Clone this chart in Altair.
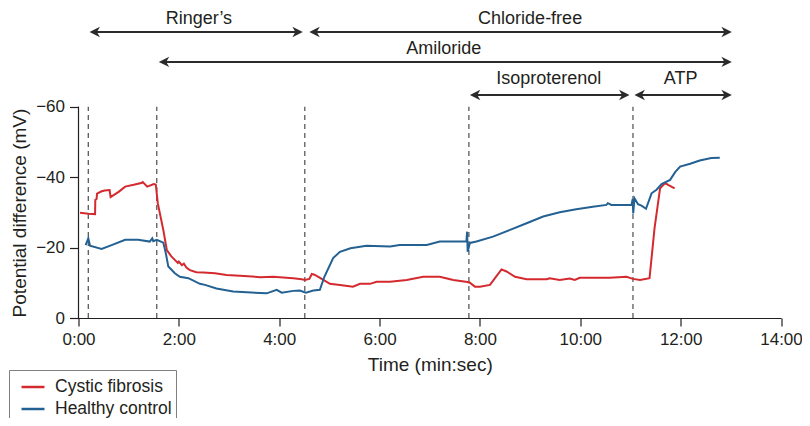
import altair as alt
import pandas as pd

# ---------------- data (time in minutes, potential difference in mV) ----------------
cf_time = [0.03, 0.20, 0.33, 0.335, 0.36, 0.37, 0.45, 0.52, 0.62, 0.64, 0.80, 0.93, 1.10, 1.25, 1.28,
           1.37, 1.50, 1.54, 1.58, 1.69, 1.76, 1.85, 1.92, 1.98, 2.00, 2.06, 2.10, 2.15, 2.22, 2.35,
           2.49, 2.72, 2.95, 3.30, 3.62, 3.88, 4.28, 4.45, 4.51, 4.60, 4.65, 4.70, 4.78, 4.88, 5.01,
           5.21, 5.47, 5.61, 5.81, 5.94, 6.21, 6.54, 6.87, 7.20, 7.47, 7.75, 7.80, 7.90, 8.00, 8.20,
           8.30, 8.43, 8.53, 8.70, 8.93, 9.33, 9.39, 9.59, 9.79, 9.89, 9.99, 10.59, 10.92, 11.05,
           11.19, 11.38, 11.48, 11.59, 11.69, 11.75, 11.88]
cf_mv = [-29.9, -29.6, -29.5, -33.5, -33.8, -35.3, -35.9, -36.2, -36.3, -34.3, -35.8, -37.3, -37.8,
         -38.3, -38.6, -37.3, -38.0, -37.9, -32.6, -25.0, -19.3, -17.5, -16.5, -15.6, -16.0, -15.0,
         -15.4, -14.3, -13.6, -13.0, -12.9, -12.7, -12.2, -11.9, -11.6, -11.7, -11.3, -11.0, -10.8,
         -11.1, -12.5, -12.3, -11.7, -10.8, -9.7, -9.4, -8.9, -9.7, -9.7, -10.3, -10.3, -10.8, -11.7,
         -11.7, -10.8, -10.2, -10.0, -8.9, -8.9, -9.4, -11.3, -13.8, -13.2, -11.7, -11.0, -11.0,
         -11.3, -10.8, -11.2, -10.8, -11.4, -11.4, -11.7, -11.1, -10.8, -11.3, -25.5, -36.8, -38.3,
         -37.8, -36.8]

hc_time = [0.143, 0.195, 0.23, 0.46, 0.66, 0.93, 1.19, 1.42, 1.47, 1.49, 1.56, 1.69, 1.74, 1.79,
           1.92, 2.02, 2.19, 2.42, 2.52, 2.75, 3.08, 3.75, 3.95, 4.05, 4.28, 4.41, 4.53, 4.68, 4.81,
           4.90, 5.075, 5.21, 5.42, 5.74, 6.21, 6.40, 6.94, 7.20, 7.73, 7.745, 7.755, 7.80, 7.93,
           8.26, 8.60, 8.93, 9.26, 9.59, 9.92, 10.25, 10.52, 10.55, 10.62, 11.02, 11.045, 11.055,
           11.08, 11.15, 11.22, 11.31, 11.42, 11.52, 11.62, 11.79, 11.89, 11.99, 12.19, 12.38,
           12.61, 12.78]
hc_mv = [-20.7, -22.6, -20.5, -19.6, -20.7, -22.2, -22.2, -21.7, -22.6, -21.8, -22.2, -21.4, -18.4,
         -14.6, -12.7, -11.7, -11.3, -9.7, -9.4, -8.4, -7.5, -7.0, -8.0, -7.2, -7.7, -7.8, -7.2,
         -7.8, -8.0, -11.7, -17.0, -18.8, -19.8, -20.5, -20.3, -20.7, -20.7, -21.7, -21.7, -24.5,
         -18.8, -21.3, -21.7, -23.1, -25.0, -26.9, -28.8, -30.0, -30.9, -31.6, -32.1, -32.6, -32.1,
         -32.1, -33.8, -29.7, -34.0, -32.3, -31.9, -31.0, -35.4, -36.4, -38.0, -39.2, -41.4, -43.0,
         -43.8, -44.7, -45.4, -45.5]

series_names = ["Cystic fibrosis", "Healthy control"]
series_colors = ["#d42a2f", "#246193"]

event_times = [0.195, 1.56, 4.51, 7.78, 11.05]

arrow_labels = ["Ringer\u2019s", "Chloride-free", "Amiloride", "Isoproterenol", "ATP"]
arrow_start = [0.22, 4.60, 1.60, 7.80, 11.08]
arrow_end = [4.47, 13.02, 13.02, 10.98, 13.02]
arrow_level = [-81.2, -81.2, -72.7, -63.3, -63.3]
label_time = [2.40, 9.0, 7.28, 9.37, 12.0]
label_level = [-85.0, -85.0, -76.4, -67.9, -67.9]

x_ticks = [0, 2, 4, 6, 8, 10, 12, 14]
y_ticks = [-60, -40, -20, 0]

# ---------------- tables ----------------
lines_df = pd.concat([
    pd.DataFrame({"t": cf_time, "mv": cf_mv, "series": series_names[0]}),
    pd.DataFrame({"t": hc_time, "mv": hc_mv, "series": series_names[1]}),
])
events_df = pd.DataFrame({"t": event_times, "lo": 0, "hi": y_ticks[0]})
axis_df = pd.DataFrame({"t": [x_ticks[0]], "lo": [0], "hi": [y_ticks[0]]})
arrows_df = pd.DataFrame({"label": arrow_labels, "start": arrow_start, "end": arrow_end,
                          "level": arrow_level, "lx": label_time, "ly": label_level})

FONT = "'Liberation Sans', Arial, sans-serif"
INK = "#231f20"

xs = alt.Scale(domain=[0, 14], nice=False, zero=False)
ys = alt.Scale(domain=[0, -88], nice=False, zero=False)

x_axis = alt.Axis(values=x_ticks, labelExpr="datum.value + ':00'", title="Time (min:sec)",
                  tickSize=8, labelPadding=5, titlePadding=8, grid=False, labelFlush=False,
                  titleFontSize=19)
y_axis = alt.Axis(values=y_ticks,
                  labelExpr="datum.value == 0 ? '0' : '\u2212' + abs(datum.value)",
                  title="Potential difference (mV)", tickSize=9, labelPadding=5, grid=False,
                  domain=False, titleX=-49, titleY=204.5, titleFontSize=19)

lines = alt.Chart(lines_df).mark_line(strokeWidth=2).encode(
    x=alt.X("t:Q", scale=xs, axis=x_axis),
    y=alt.Y("mv:Q", scale=ys, axis=y_axis),
    color=alt.Color("series:N", scale=alt.Scale(domain=series_names, range=series_colors),
                    legend=alt.Legend(title=None, orient="none", legendX=-69.5, legendY=362,
                                      strokeColor="#7f7f7f", padding=4, symbolOffset=7,
                                      symbolType="stroke", symbolSize=529, symbolStrokeWidth=2.5,
                                      labelFontSize=17.5, labelOffset=9, rowPadding=-1)),
    order=alt.Order("t:Q"),
)

events = alt.Chart(events_df).mark_rule(strokeDash=[5, 4], strokeWidth=1.2, color="#4d4d4d").encode(
    x=alt.X("t:Q", scale=xs), y=alt.Y("lo:Q", scale=ys), y2="hi:Q")

yline = alt.Chart(axis_df).mark_rule(strokeWidth=1.2, color=INK).encode(
    x=alt.X("t:Q", scale=xs), y=alt.Y("lo:Q", scale=ys), y2="hi:Q")

shafts = alt.Chart(arrows_df).mark_rule(strokeWidth=2, color="#2b2b2b", xOffset=4, x2Offset=-4).encode(
    x=alt.X("start:Q", scale=xs), x2="end:Q", y=alt.Y("level:Q", scale=ys))

head_r = alt.Chart(arrows_df).mark_point(
    shape="M0,0 L-1.1,-0.55 L-0.78,0 L-1.1,0.55 Z", filled=True, size=360, opacity=1,
    color="#2b2b2b").encode(x=alt.X("end:Q", scale=xs), y=alt.Y("level:Q", scale=ys))

head_l = alt.Chart(arrows_df).mark_point(
    shape="M0,0 L1.1,-0.55 L0.78,0 L1.1,0.55 Z", filled=True, size=360, opacity=1,
    color="#2b2b2b").encode(x=alt.X("start:Q", scale=xs), y=alt.Y("level:Q", scale=ys))

labels = alt.Chart(arrows_df).mark_text(fontSize=18, font=FONT, color=INK, baseline="middle",
                                        align="center").encode(
    x=alt.X("lx:Q", scale=xs), y=alt.Y("ly:Q", scale=ys), text="label:N")

chart = alt.layer(events, yline, lines, shafts, head_r, head_l, labels).properties(
    width=702.5, height=310,
    autosize=alt.AutoSizeParams(type="none"),
    padding={"left": 70.5, "top": 0, "right": 21, "bottom": 100},
).configure_view(stroke=None).configure_axis(
    labelFont=FONT, titleFont=FONT, labelFontSize=17, titleFontWeight="normal",
    labelColor=INK, titleColor=INK, domainColor=INK, tickColor=INK, domainWidth=1.2, tickWidth=1.2,
).configure_legend(labelFont=FONT, labelColor=INK)

chart.save("out.html", embed_options={"renderer": "svg", "actions": False})
